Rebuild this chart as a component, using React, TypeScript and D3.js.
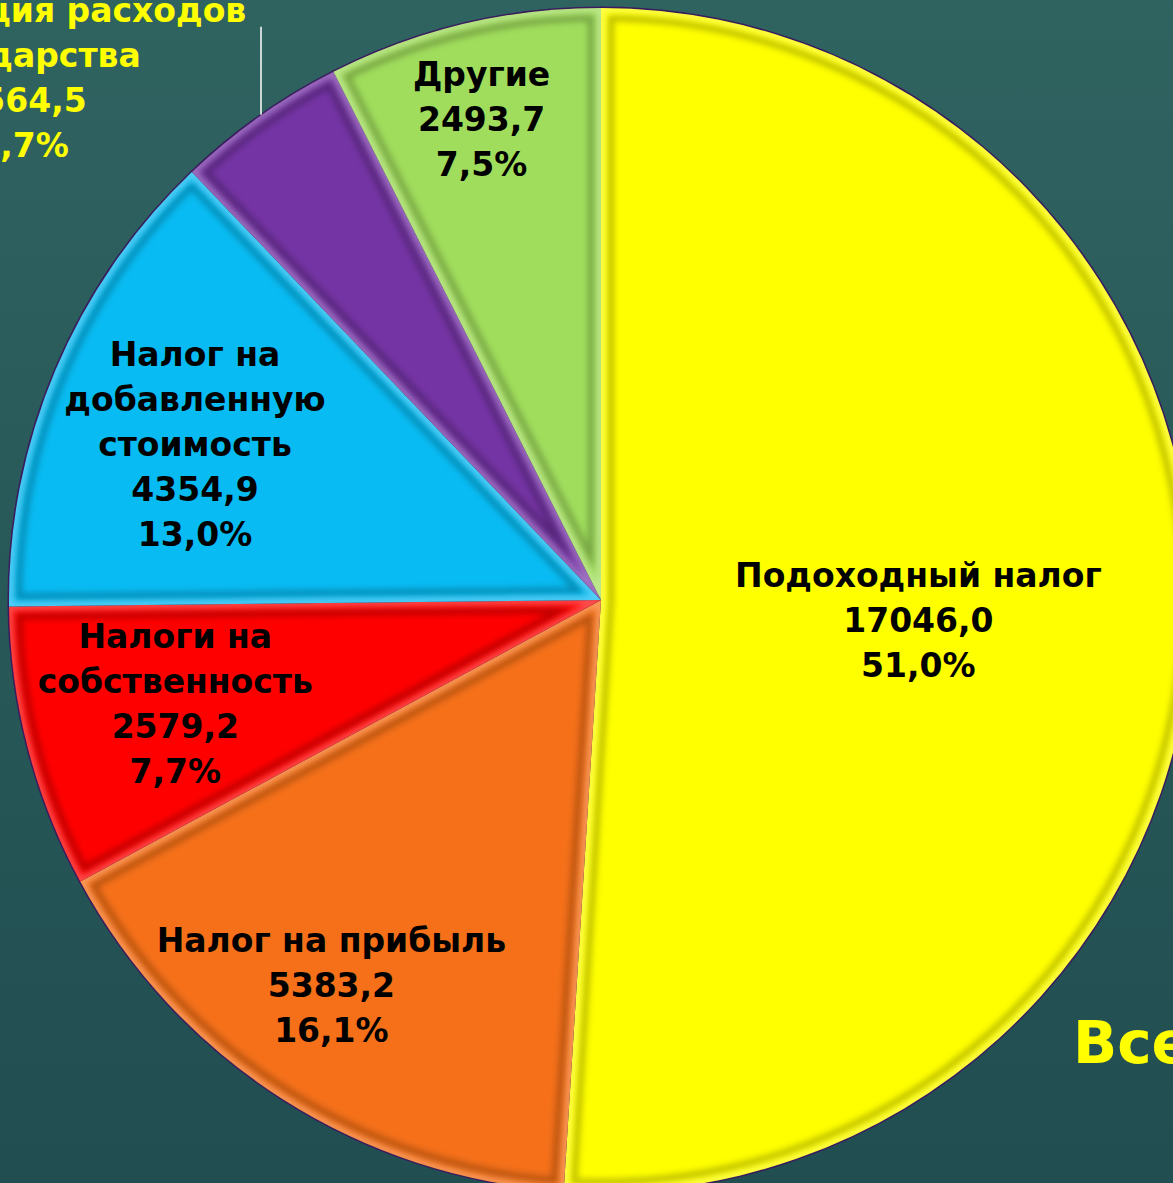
import React, { useEffect, useRef } from "react";
import * as d3 from "d3";

// slice data, clockwise from 12 o'clock
const names: string[][] = [
  ["Подоходный налог"],
  ["Налог на прибыль"],
  ["Налоги на", "собственность"],
  ["Налог на", "добавленную", "стоимость"],
  ["Компенсация расходов", "государства"],
  ["Другие"],
];
const values: number[] = [17046.0, 5383.2, 2579.2, 4354.9, 1564.5, 2493.7];
const colors: string[] = ["#ffff00", "#f57019", "#ff0000", "#08bbf2", "#7434a4", "#a0dd5c"];
const totalLabel = "Всего";

const W = 1173;
const H = 1183;

const App: React.FC = () => {
  const svgRef = useRef<SVGSVGElement | null>(null);

  useEffect(() => {
    if (!svgRef.current) return;
    const svg = d3.select(svgRef.current);
    svg.selectAll("*").remove();

    const cx = 601;
    const cy = 600;
    const R = 592;
    const font = "'DejaVu Sans', sans-serif";

    const defs = svg.append("defs");
    const bg = defs
      .append("linearGradient")
      .attr("id", "bg")
      .attr("x1", 0)
      .attr("y1", 0)
      .attr("x2", 0)
      .attr("y2", 1);
    bg.append("stop").attr("offset", 0).attr("stop-color", "#2f6360");
    bg.append("stop").attr("offset", 1).attr("stop-color", "#214e51");

    defs.append("filter").attr("id", "soft").append("feGaussianBlur").attr("stdDeviation", 3);

    svg.append("rect").attr("width", W).attr("height", H).attr("fill", "url(#bg)");

    const idx = d3.range(values.length);
    const total = d3.sum(values);
    const pie = d3
      .pie<number>()
      .sort(null)
      .value((i) => values[i]);
    const arcs = pie(idx);
    const arc = d3.arc<d3.PieArcDatum<number>>().innerRadius(0).outerRadius(R);

    const g = svg.append("g").attr("transform", `translate(${cx},${cy})`);

    arcs.forEach((d) => {
      defs
        .append("clipPath")
        .attr("id", `clip${d.data}`)
        .append("path")
        .attr("transform", `translate(${cx},${cy})`)
        .attr("d", arc(d) as string);
    });

    g.selectAll("path.slice")
      .data(arcs)
      .join("path")
      .attr("class", "slice")
      .attr("d", arc)
      .attr("fill", (d) => colors[d.data]);

    // bevel: soft dark band plus light rim inside each slice
    const bevel = svg.append("g");
    arcs.forEach((d) => {
      const b = bevel.append("g").attr("clip-path", `url(#clip${d.data})`);
      b.append("path")
        .attr("transform", `translate(${cx},${cy})`)
        .attr("d", arc(d) as string)
        .attr("fill", "none")
        .attr("stroke", "#000")
        .attr("stroke-opacity", 0.25)
        .attr("stroke-width", 26)
        .attr("filter", "url(#soft)");
      b.append("path")
        .attr("transform", `translate(${cx},${cy})`)
        .attr("d", arc(d) as string)
        .attr("fill", "none")
        .attr("stroke", colors[d.data])
        .attr("stroke-width", 14)
        .attr("filter", "url(#soft)");
      b.append("path")
        .attr("transform", `translate(${cx},${cy})`)
        .attr("d", arc(d) as string)
        .attr("fill", "none")
        .attr("stroke", "#ffffff")
        .attr("stroke-opacity", 0.3)
        .attr("stroke-width", 8)
        .attr("filter", "url(#soft)");
    });

    g.selectAll("path.edge")
      .data(arcs)
      .join("path")
      .attr("class", "edge")
      .attr("d", arc)
      .attr("fill", "none")
      .attr("stroke", "#3a1c5e")
      .attr("stroke-width", 3)
      .attr("stroke-linejoin", "round");

    const num = (v: number) => d3.format(".1f")(v).replace(".", ",");
    const lineH = 45;

    // label placement: radius and small angle nudge (degrees) per slice
    const place = [
      { r: 318, da: 1.8 },
      { r: 470, da: 2.4 },
      { r: 438, da: 0.9 },
      { r: 435, da: -1.8 },
      { r: 0, da: 0 },
      { r: 496, da: -0.5 },
    ];

    arcs.forEach((d) => {
      const i = d.data;
      const lines = [...names[i], num(values[i]), num((values[i] / total) * 100) + "%"];
      if (i === 4) {
        // outside label with leader line
        const mid = (d.startAngle + d.endAngle) / 2;
        const lx = Math.sin(mid) * R;
        const ly = -Math.cos(mid) * R;
        g.append("line")
          .attr("x1", lx + 2)
          .attr("y1", ly - 2)
          .attr("x2", lx + 2)
          .attr("y2", ly - 90)
          .attr("stroke", "#ffffff")
          .attr("stroke-width", 1.5);
        const t = g
          .append("text")
          .attr("text-anchor", "middle")
          .attr("font-family", font)
          .attr("font-weight", "bold")
          .attr("font-size", 33)
          .attr("fill", "#ffff00");
        const tx = lx - 236;
        const ty0 = ly - 95;
        lines.forEach((s, k) => {
          t.append("tspan").attr("x", tx).attr("y", ty0 + k * lineH).text(s);
        });
        return;
      }
      const a = (d.startAngle + d.endAngle) / 2 + (place[i].da * Math.PI) / 180;
      const px = Math.sin(a) * place[i].r;
      const py = -Math.cos(a) * place[i].r;
      const t = g
        .append("text")
        .attr("text-anchor", "middle")
        .attr("font-family", font)
        .attr("font-weight", "bold")
        .attr("font-size", 33)
        .attr("fill", "#000000");
      const y0 = py - ((lines.length - 1) * lineH) / 2 + 12;
      lines.forEach((s, k) => {
        t.append("tspan").attr("x", px).attr("y", y0 + k * lineH).text(s);
      });
    });

    svg
      .append("text")
      .attr("x", 1073)
      .attr("y", 1063)
      .attr("font-family", font)
      .attr("font-weight", "bold")
      .attr("font-size", 58)
      .attr("fill", "#ffff00")
      .text(totalLabel + ": " + num(total));
  }, []);

  return (
    <div>
      <style>{`body{margin:0;overflow:hidden}`}</style>
      <svg ref={svgRef} width={W} height={H} style={{ display: "block" }}></svg>
    </div>
  );
};

export default App;
